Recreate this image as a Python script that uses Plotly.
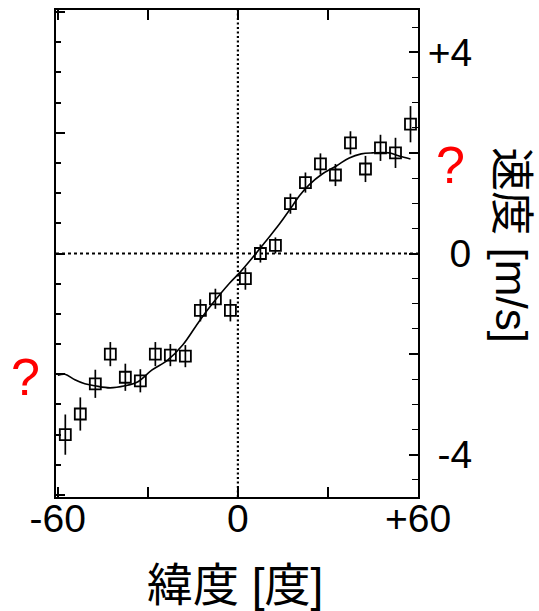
import plotly.graph_objects as go

# ---- data ----
lat = [-57.5, -52.5, -47.5, -42.5, -37.5, -32.5, -27.5, -22.5, -17.5, -12.5, -7.5, -2.5,
       2.5, 7.5, 12.5, 17.5, 22.5, 27.5, 32.5, 37.5, 42.5, 47.5, 52.5, 57.5]
vel = [-3.60, -3.19, -2.59, -2.00, -2.46, -2.53, -2.00, -2.02, -2.04, -1.13, -0.90, -1.13,
       -0.50, 0.00, 0.16, 0.99, 1.41, 1.78, 1.56, 2.20, 1.68, 2.10, 2.00, 2.57]
err = [0.40, 0.33, 0.28, 0.24, 0.27, 0.23, 0.24, 0.22, 0.22, 0.22, 0.20, 0.22,
       0.22, 0.18, 0.16, 0.20, 0.20, 0.21, 0.22, 0.23, 0.26, 0.26, 0.30, 0.36]

fit_lat = [-60.0, -57.6, -54.3, -51.0, -47.6, -42.6, -37.6, -33.3, -28.7, -23.4, -18.4, -12.7,
           -8.4, -2.8, 0.6, 4.9, 9.5, 13.9, 18.2, 20.5, 23.8, 28.1, 32.8, 37.1, 41.1, 44.8,
           50.4, 53.7, 57.5]
fit_vel = [-2.42, -2.40, -2.51, -2.59, -2.63, -2.67, -2.63, -2.55, -2.32, -2.12, -1.82, -1.33,
           -0.99, -0.59, -0.38, -0.08, 0.26, 0.59, 0.95, 1.15, 1.37, 1.58, 1.74, 1.90, 1.98, 2.00,
           2.00, 1.94, 1.88]

x_tickvals = [-60, -30, 0, 30, 60]
x_ticktext = ["-60", "", "0", "", "+60"]
y_tickvals = [-4, -2, 0, 2, 4]
y_ticktext = ["\u2005-4", "", "\u20070", "", "+4"]

x_title = "緯度 [度]"
y_title = "速度 [m/s]"

XR = [-60.6, 60.0]
YR = [-4.84, 4.84]

LAT_FONT = "Liberation Sans, Arial, Noto Sans CJK JP, sans-serif"
CJK_FONT = "Liberation Sans, Arial, Noto Sans CJK JP, sans-serif"

fig = go.Figure()

fig.add_trace(go.Scatter(
    x=fit_lat, y=fit_vel, mode="lines", line=dict(color="black", width=1.6, shape="spline"),
    showlegend=False, hoverinfo="skip"))

fig.add_trace(go.Scatter(
    x=lat, y=vel, mode="markers",
    marker=dict(symbol="square-open", size=11, color="black", line=dict(width=1.8, color="black")),
    error_y=dict(type="data", array=err, visible=True, color="black", thickness=1.7, width=0),
    showlegend=False))

# invisible trace so that the left (secondary) axis is drawn
fig.add_trace(go.Scatter(x=[None], y=[None], yaxis="y2", mode="markers",
                         showlegend=False, hoverinfo="skip"))

# dotted reference lines at 0
fig.add_shape(type="line", xref="paper", x0=0, x1=1, yref="y", y0=0, y1=0,
              line=dict(color="black", width=1.8, dash="3px,3px"), layer="below")
fig.add_shape(type="line", xref="x", x0=0, x1=0, yref="paper", y0=0, y1=1,
              line=dict(color="black", width=2.2, dash="2px,2.5px"), layer="below")

fig.update_layout(
    width=539, height=611,
    margin=dict(l=56, r=121, t=8, b=114),
    paper_bgcolor="white", plot_bgcolor="white",
    showlegend=False,
    xaxis=dict(range=XR, tickmode="array", tickvals=x_tickvals, ticktext=x_ticktext,
               ticks="inside", ticklen=10, tickwidth=1.6, tickcolor="black",
               showline=True, linewidth=2, linecolor="black", mirror="ticks",
               showgrid=False, zeroline=False, ticklabelstandoff=-14,
               tickfont=dict(family=LAT_FONT, size=39, color="black")),
    yaxis=dict(range=YR, side="right", tickmode="array", tickvals=y_tickvals, ticktext=y_ticktext,
               ticks="inside", ticklen=9, tickwidth=1.6, tickcolor="black",
               minor=dict(dtick=0.5, tick0=0, ticks="inside", ticklen=6, tickwidth=1.4, tickcolor="black"),
               showline=True, linewidth=2, linecolor="black",
               showgrid=False, zeroline=False,
               tickfont=dict(family=LAT_FONT, size=39, color="black")),
    yaxis2=dict(range=YR, overlaying="y", side="left", tick0=0, dtick=2.4,
                ticks="inside", ticklen=9, tickwidth=1.6, tickcolor="black",
                minor=dict(dtick=0.6, tick0=0, ticks="inside", ticklen=5, tickwidth=1.6, tickcolor="black"),
                showticklabels=False, showline=True, linewidth=2, linecolor="black",
                showgrid=False, zeroline=False),
)

# axis titles
fig.add_annotation(text=x_title, xref="paper", yref="paper", x=0.494, y=-0.181,
                   xanchor="center", yanchor="middle", showarrow=False,
                   font=dict(family=CJK_FONT, size=46, color="black"))
fig.add_annotation(text=y_title, xref="paper", yref="paper", x=1.258, y=0.516,
                   xanchor="center", yanchor="middle", textangle=90, showarrow=False,
                   borderpad=0,
                   font=dict(family=CJK_FONT, size=44, color="black"))

# red question marks
fig.add_annotation(text="?", xref="paper", yref="y", x=1.09, y=1.76,
                   xanchor="center", yanchor="middle", showarrow=False,
                   font=dict(family=LAT_FONT, size=52, color="#ff0000"))
fig.add_annotation(text="?", xref="paper", yref="y", x=-0.083, y=-2.45,
                   xanchor="center", yanchor="middle", showarrow=False,
                   font=dict(family=LAT_FONT, size=52, color="#ff0000"))

fig.write_html("out.html")
